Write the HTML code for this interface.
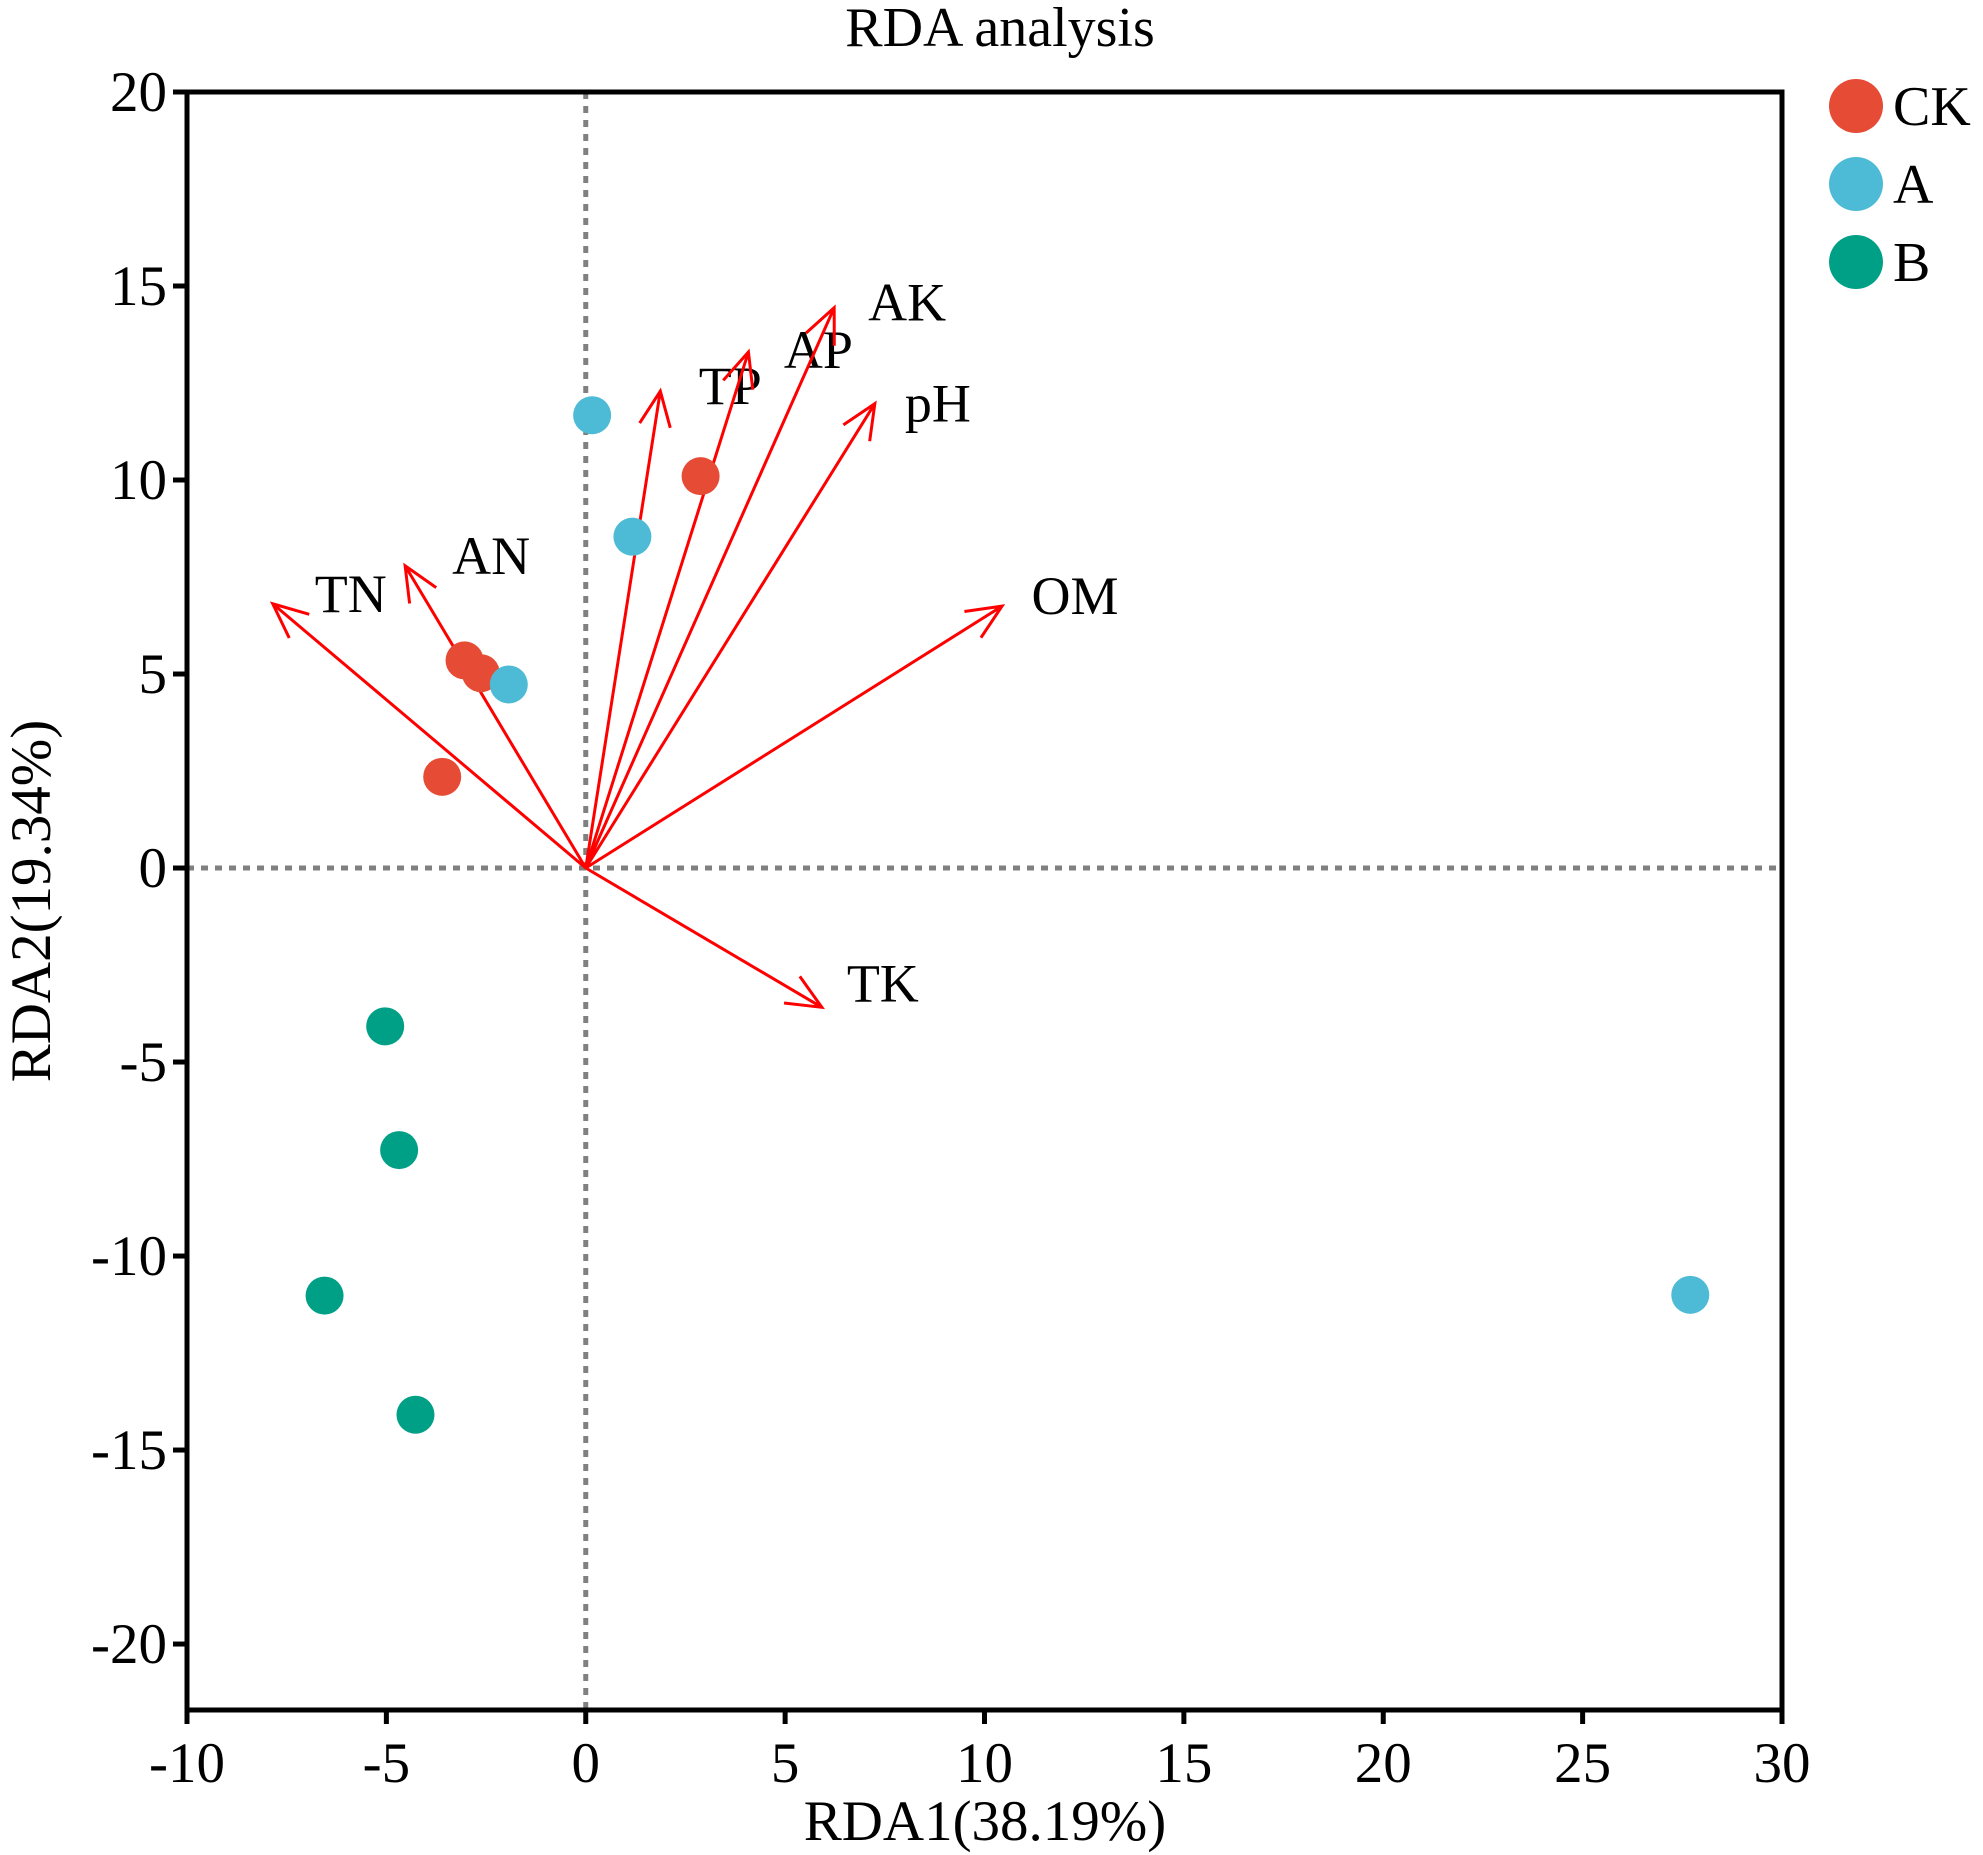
<!DOCTYPE html>
<html><head><meta charset="utf-8"><style>
html,body{margin:0;padding:0;background:#fff;}
svg{display:block;font-family:"Liberation Serif",serif;}
</style></head><body>
<svg id="chart" width="1983" height="1855" viewBox="0 0 1983 1855" xmlns="http://www.w3.org/2000/svg">
<text x="1000" y="46" font-size="56" text-anchor="middle">RDA analysis</text>
<g id="grid"></g>
<g id="arrows"></g>
<g id="points"></g>
<g id="axes"></g>
<g id="legend"></g>
<text x="985" y="1840" font-size="57" text-anchor="middle">RDA1(38.19%)</text>
<text transform="translate(50,901) rotate(-90)" font-size="57" text-anchor="middle">RDA2(19.34%)</text>
</svg>
<script>
const xTicks=[-10,-5,0,5,10,15,20,25,30];
const yTicks=[20,15,10,5,0,-5,-10,-15,-20];
const groups=["CK","A","B"];
const groupColors=["#e64b35","#4dbbd5","#00a087"];
const ptX=[2.88,-3.04,-2.63,-3.6, 0.16,1.17,-1.93,27.7, -5.03,-4.68,-6.55,-4.27];
const ptY=[10.1,5.35,5.02,2.35, 11.67,8.54,4.73,-11.0, -4.08,-7.27,-11.02,-14.09];
const ptGroup=[0,0,0,0,1,1,1,1,2,2,2,2];
const envNames=["TN","AN","TP","AP","AK","pH","OM","TK"];
const envX=[-7.85,-4.53,1.87,4.08,6.23,7.25,10.44,5.92];
const envY=[6.81,7.79,12.29,13.3,14.44,11.97,6.75,-3.59];

const L=187,R=1782,T=92,B=1710;
const xMin=-10,xMax=30,yMin=-21.7,yMax=20;
const sx=v=>L+(v-xMin)/(xMax-xMin)*(R-L);
const sy=v=>B-(v-yMin)/(yMax-yMin)*(B-T);
const NS="http://www.w3.org/2000/svg";
function mk(tag,attrs,parent){const e=document.createElementNS(NS,tag);for(const k in attrs)e.setAttribute(k,attrs[k]);parent.appendChild(e);return e;}

const grid=document.getElementById('grid');
let g1=mk('line',{x1:sx(0),x2:sx(0),y1:T,y2:B,stroke:'#808080','stroke-width':5,'stroke-dasharray':'7 7'},grid);


let g2=mk('line',{x1:L,x2:R,y1:sy(0),y2:sy(0),stroke:'#808080','stroke-width':5,'stroke-dasharray':'7 7'},grid);



const arrows=document.getElementById('arrows');
const labOff={TN:[78,-10],AN:[86,-10],TP:[70,-5],AP:[70,-2],AK:[73,-5],pH:[63,0],OM:[73,-10],TK:[61,-24]};
envNames.forEach((n,i)=>{
  const x0=sx(0),y0=sy(0),x1=sx(envX[i]),y1=sy(envY[i]);
  const a=Math.atan2(y1-y0,x1-x0),h=38,w=0.42;
  const d=`M${x0},${y0}L${x1},${y1}M${x1-h*Math.cos(a-w)},${y1-h*Math.sin(a-w)}L${x1},${y1}L${x1-h*Math.cos(a+w)},${y1-h*Math.sin(a+w)}`;
  const p=mk('path',{d:d,stroke:'#ff0000','stroke-width':3,fill:'none'},arrows);
  
  
  const o=labOff[n];
  const t=mk('text',{x:x1+o[0],y:y1+o[1]+18,'font-size':54,'text-anchor':'middle'},arrows);
  t.textContent=n;
  
  
});

const pts=document.getElementById('points');
ptX.forEach((v,i)=>{
  const c=mk('circle',{cx:sx(v),cy:sy(ptY[i]),r:19,fill:groupColors[ptGroup[i]]},pts);
  
  
});

const axes=document.getElementById('axes');
const fr=mk('rect',{x:L,y:T,width:R-L,height:B-T,fill:'none',stroke:'#000','stroke-width':5},axes);


xTicks.forEach(v=>{
  mk('line',{x1:sx(v),x2:sx(v),y1:B,y2:B+14,stroke:'#000','stroke-width':5},axes);
  const t=mk('text',{x:sx(v),y:B+72,'font-size':57,'text-anchor':'middle'},axes);
  t.textContent=v;
  
  
});
yTicks.forEach(v=>{
  mk('line',{x1:L-14,x2:L,y1:sy(v),y2:sy(v),stroke:'#000','stroke-width':5},axes);
  const t=mk('text',{x:L-20,y:sy(v)+19,'font-size':57,'text-anchor':'end'},axes);
  t.textContent=v;
  
  
});

const leg=document.getElementById('legend');
groups.forEach((g,i)=>{
  const y=106+i*78;
  const c=mk('circle',{cx:1856,cy:y,r:27,fill:groupColors[i]},leg);
  
  
  const t=mk('text',{x:1893,y:y+19,'font-size':56},leg);
  t.textContent=g;
  
  
});
</script>
</body></html>
